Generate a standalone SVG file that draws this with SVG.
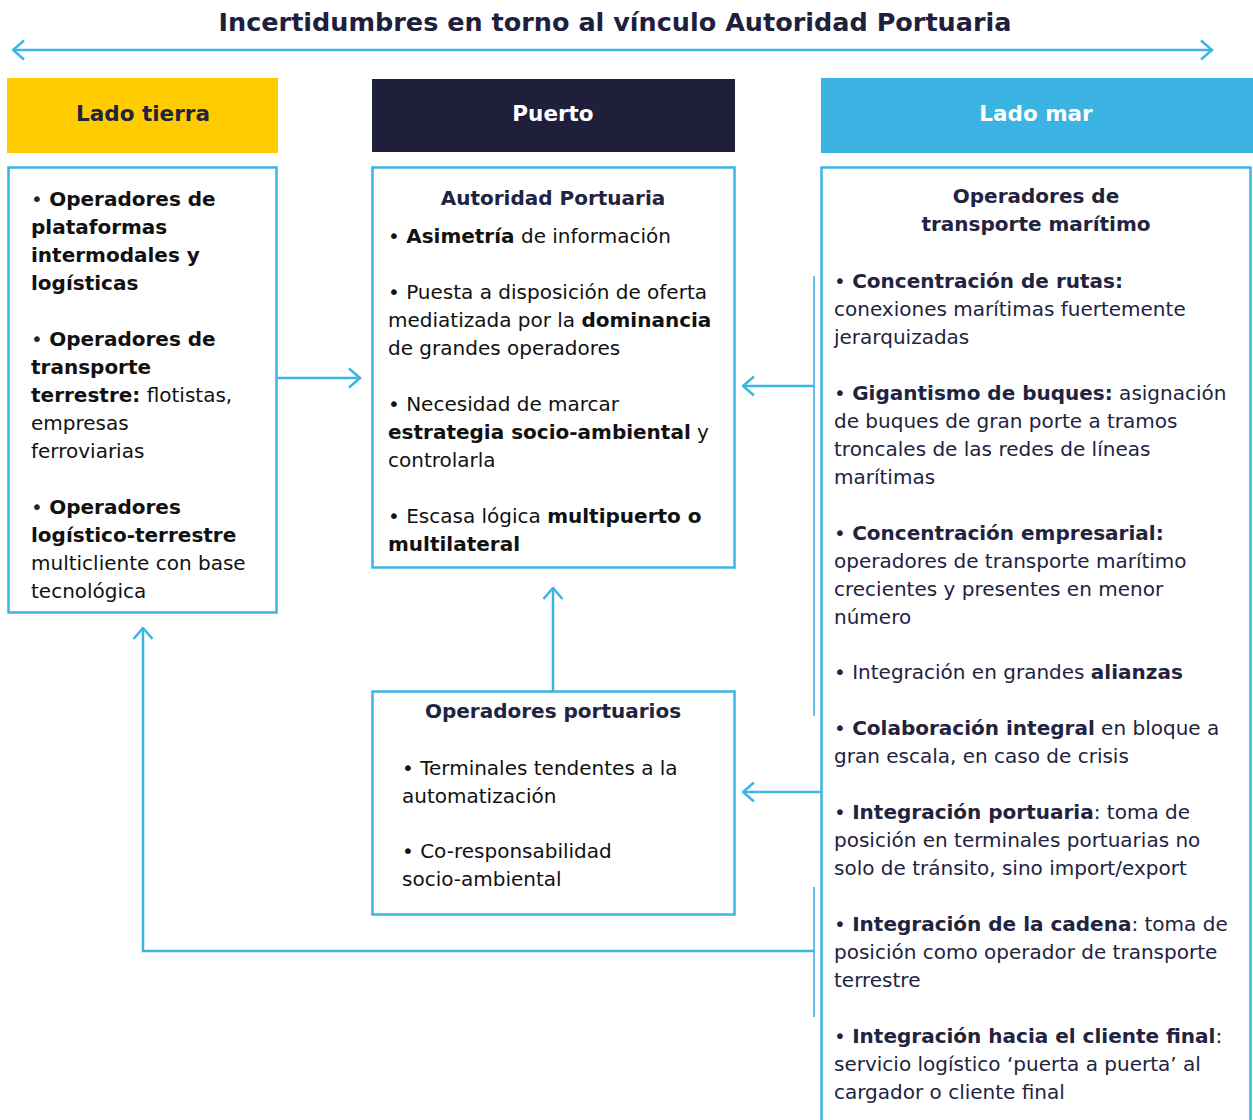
<svg xmlns="http://www.w3.org/2000/svg" width="1253" height="1120" viewBox="0 0 1253 1120">
<style>
text{font-family:"DejaVu Sans","Liberation Sans",sans-serif;font-size:20px;}
.b{font-weight:bold;}
.ttl{font-size:25.5px;font-weight:bold;fill:#1f203d;}
.hd{font-size:21.5px;font-weight:bold;}
.box{fill:#fff;stroke:#3cb4e4;stroke-width:2.5;}
.blk{fill:#111;}
.nv{fill:#22233f;}
.con{fill:none;stroke:#3cb4e4;stroke-width:2.5;}
.thin{fill:none;stroke:#3cb4e4;stroke-width:1.6;}
</style>
<defs>
<marker id="arr" viewBox="0 0 14 22" refX="12.5" refY="11" markerWidth="14" markerHeight="22" markerUnits="userSpaceOnUse" orient="auto-start-reverse">
<path d="M1.5,1.5 L12.5,11 L1.5,20.5" fill="none" stroke="#3cb4e4" stroke-width="2.5"/>
</marker>
</defs>
<rect width="1253" height="1120" fill="#fff"/>
<text class="ttl" x="615" y="31" text-anchor="middle">Incertidumbres en torno al vínculo Autoridad Portuaria</text>

<g id="connectors">
<path class="con" d="M13,50 H1212" marker-start="url(#arr)" marker-end="url(#arr)"/>
<path class="con" d="M278,378 H360" marker-end="url(#arr)"/>
<path class="thin" d="M814,276 V716"/>
<path class="con" d="M814,386 H743" marker-end="url(#arr)"/>
<path class="con" d="M821,792 H743" marker-end="url(#arr)"/>
<path class="thin" d="M814,887 V1017"/>
<path class="con" d="M814,951 H143 V628" marker-end="url(#arr)"/>
<path class="con" d="M553,691 V588" marker-end="url(#arr)"/>
</g>

<g id="hdr-tierra">
<rect x="7" y="78" width="271" height="75" fill="#ffcc00"/>
<text class="hd nv" x="143" y="121" text-anchor="middle">Lado tierra</text>
</g>
<g id="hdr-puerto">
<rect x="372" y="79" width="363" height="73" fill="#1f1f3b"/>
<text class="hd" x="553" y="121" text-anchor="middle" fill="#fff">Puerto</text>
</g>
<g id="hdr-mar">
<rect x="821" y="78" width="432" height="75" fill="#3bb3e3"/>
<text class="hd" x="1036" y="121" text-anchor="middle" fill="#fff">Lado mar</text>
</g>

<g id="tierra">
<rect class="box" x="8.5" y="167.5" width="268" height="445"/>
<g class="blk">
<text x="31" y="206"><tspan class="nv">•</tspan> <tspan class="b">Operadores de</tspan></text>
<text class="b" x="31" y="234">plataformas</text>
<text class="b" x="31" y="262">intermodales y</text>
<text class="b" x="31" y="290">logísticas</text>
<text x="31" y="346"><tspan class="nv">•</tspan> <tspan class="b">Operadores de</tspan></text>
<text class="b" x="31" y="374">transporte</text>
<text x="31" y="402"><tspan class="b">terrestre:</tspan> flotistas,</text>
<text x="31" y="430">empresas</text>
<text x="31" y="458">ferroviarias</text>
<text x="31" y="514"><tspan class="nv">•</tspan> <tspan class="b">Operadores</tspan></text>
<text class="b" x="31" y="542">logístico-terrestre</text>
<text x="31" y="570">multicliente con base</text>
<text x="31" y="598">tecnológica</text>
</g>
</g>

<g id="autoridad">
<rect class="box" x="372.5" y="167.5" width="362" height="400"/>
<text class="b nv" x="553" y="205" text-anchor="middle">Autoridad Portuaria</text>
<g class="blk">
<text x="388" y="243">• <tspan class="b">Asimetría</tspan> de información</text>
<text x="388" y="299">• Puesta a disposición de oferta</text>
<text x="388" y="327">mediatizada por la <tspan class="b">dominancia</tspan></text>
<text x="388" y="355">de grandes operadores</text>
<text x="388" y="411">• Necesidad de marcar</text>
<text x="388" y="439"><tspan class="b">estrategia socio-ambiental</tspan> y</text>
<text x="388" y="467">controlarla</text>
<text x="388" y="523">• Escasa lógica <tspan class="b">multipuerto o</tspan></text>
<text class="b" x="388" y="551">multilateral</text>
</g>
</g>

<g id="portuarios">
<rect class="box" x="372.5" y="691.5" width="362" height="223"/>
<text class="b nv" x="553" y="718" text-anchor="middle">Operadores portuarios</text>
<g class="blk">
<text x="402" y="775">• Terminales tendentes a la</text>
<text x="402" y="803">automatización</text>
<text x="402" y="858">• Co-responsabilidad</text>
<text x="402" y="886">socio-ambiental</text>
</g>
</g>

<g id="maritimo">
<rect class="box" x="821.5" y="167.5" width="429" height="970"/>
<g class="nv">
<text class="b" x="1036" y="203" text-anchor="middle">Operadores de</text>
<text class="b" x="1036" y="231" text-anchor="middle">transporte marítimo</text>
<text x="834" y="288">• <tspan class="b">Concentración de rutas:</tspan></text>
<text x="834" y="316">conexiones marítimas fuertemente</text>
<text x="834" y="344">jerarquizadas</text>
<text x="834" y="400">• <tspan class="b">Gigantismo de buques:</tspan> asignación</text>
<text x="834" y="428">de buques de gran porte a tramos</text>
<text x="834" y="456">troncales de las redes de líneas</text>
<text x="834" y="484">marítimas</text>
<text x="834" y="540">• <tspan class="b">Concentración empresarial:</tspan></text>
<text x="834" y="568">operadores de transporte marítimo</text>
<text x="834" y="596">crecientes y presentes en menor</text>
<text x="834" y="624">número</text>
<text x="834" y="679">• Integración en grandes <tspan class="b">alianzas</tspan></text>
<text x="834" y="735">• <tspan class="b">Colaboración integral</tspan> en bloque a</text>
<text x="834" y="763">gran escala, en caso de crisis</text>
<text x="834" y="819">• <tspan class="b">Integración portuaria</tspan>: toma de</text>
<text x="834" y="847">posición en terminales portuarias no</text>
<text x="834" y="875">solo de tránsito, sino import/export</text>
<text x="834" y="931">• <tspan class="b">Integración de la cadena</tspan>: toma de</text>
<text x="834" y="959">posición como operador de transporte</text>
<text x="834" y="987">terrestre</text>
<text x="834" y="1043">• <tspan class="b">Integración hacia el cliente final</tspan>:</text>
<text x="834" y="1071">servicio logístico ‘puerta a puerta’ al</text>
<text x="834" y="1099">cargador o cliente final</text>
</g>
</g>
</svg>
